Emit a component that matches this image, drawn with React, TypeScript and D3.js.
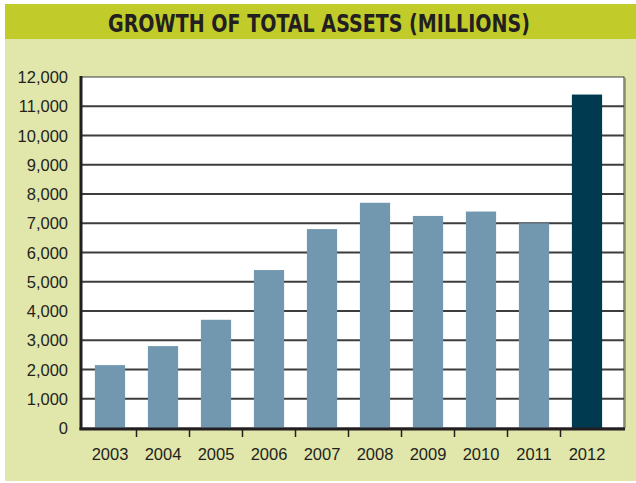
import * as d3 from "d3";
import React, { useRef, useEffect } from "react";

const years = ["2003", "2004", "2005", "2006", "2007", "2008", "2009", "2010", "2011", "2012"];
const assets = [2150, 2800, 3700, 5400, 6800, 7700, 7250, 7400, 7000, 11400];
const yTicks = [0, 1000, 2000, 3000, 4000, 5000, 6000, 7000, 8000, 9000, 10000, 11000, 12000];
const title = "GROWTH OF TOTAL ASSETS (MILLIONS)";

const App = () => {
  const svgRef = useRef(null);

  useEffect(() => {
    const svg = d3.select(svgRef.current);
    svg.selectAll("*").remove();

    const width = 636;
    const plotLeft = 81;
    const plotRight = 624;
    const plotTop = 77;
    const plotBottom = 428;

    // backgrounds
    svg.append("rect").attr("x", 5).attr("y", 39).attr("width", width - 5).attr("height", 442).attr("fill", "#e1e6ab");
    svg.append("rect").attr("x", 5).attr("y", 4).attr("width", width - 5).attr("height", 35).attr("fill", "#c1cc2b");
    svg
      .append("text")
      .attr("x", 319)
      .attr("y", 32)
      .attr("text-anchor", "middle")
      .attr("textLength", 422)
      .attr("lengthAdjust", "spacingAndGlyphs")
      .style("font-family", "'DejaVu Sans Condensed', 'Liberation Sans Narrow', sans-serif")
      .style("font-weight", "bold")
      .style("font-size", "25px")
      .style("fill", "#231f20")
      .text(title);

    const x = d3.scaleBand().domain(years).range([83.5, 613.5]).paddingInner(0.43).paddingOuter(0.215);
    const y = d3.scaleLinear().domain([0, 12000]).range([plotBottom, plotTop]);

    // plot area
    svg
      .append("rect")
      .attr("x", plotLeft)
      .attr("y", plotTop)
      .attr("width", plotRight - plotLeft)
      .attr("height", plotBottom - plotTop)
      .attr("fill", "#ffffff")
      .attr("stroke", "#3a3a3a")
      .attr("stroke-width", 1);
    svg
      .append("line")
      .attr("x1", plotRight + 1)
      .attr("x2", plotRight + 1)
      .attr("y1", plotTop + 1)
      .attr("y2", plotBottom)
      .attr("stroke", "#8a8a70")
      .attr("stroke-width", 1.5);

    // gridlines
    svg
      .append("g")
      .selectAll("line")
      .data(yTicks.filter((d) => d > 0 && d < 12000))
      .join("line")
      .attr("x1", plotLeft)
      .attr("x2", plotRight)
      .attr("y1", (d) => y(d))
      .attr("y2", (d) => y(d))
      .attr("stroke", "#3d3d3d")
      .attr("stroke-width", 2);

    // bars
    svg
      .append("g")
      .selectAll("rect")
      .data(years)
      .join("rect")
      .attr("x", (d) => x(d) as number)
      .attr("width", x.bandwidth())
      .attr("y", (d, i) => y(assets[i]))
      .attr("height", (d, i) => plotBottom - y(assets[i]))
      .attr("fill", (d, i) => (i === years.length - 1 ? "#003a51" : "#7298b0"));

    // axes
    svg.append("line").attr("x1", plotLeft).attr("x2", plotLeft).attr("y1", plotTop - 1).attr("y2", plotBottom + 2).attr("stroke", "#231f20").attr("stroke-width", 3);
    svg.append("line").attr("x1", plotLeft - 1.5).attr("x2", plotRight + 1).attr("y1", plotBottom + 1).attr("y2", plotBottom + 1).attr("stroke", "#231f20").attr("stroke-width", 3);

    // x ticks between bands
    const step = x.step();
    svg
      .append("g")
      .selectAll("line")
      .data(years.slice(1))
      .join("line")
      .attr("x1", (d) => (x(d) as number) - (step - x.bandwidth()) / 2)
      .attr("x2", (d) => (x(d) as number) - (step - x.bandwidth()) / 2)
      .attr("y1", plotBottom + 2)
      .attr("y2", plotBottom + 9)
      .attr("stroke", "#231f20")
      .attr("stroke-width", 1.5);

    const labelFont = "'Liberation Sans', Arial, sans-serif";

    svg
      .append("g")
      .selectAll("text")
      .data(yTicks)
      .join("text")
      .attr("x", 68)
      .attr("y", (d) => y(d) + 6)
      .attr("text-anchor", "end")
      .style("font-family", labelFont)
      .style("font-size", "16.5px")
      .style("fill", "#231f20")
      .text((d) => d3.format(",")(d));

    svg
      .append("g")
      .selectAll("text")
      .data(years)
      .join("text")
      .attr("x", (d) => (x(d) as number) + x.bandwidth() / 2)
      .attr("y", 460)
      .attr("text-anchor", "middle")
      .style("font-family", labelFont)
      .style("font-size", "16.5px")
      .style("fill", "#231f20")
      .text((d) => d);
  }, []);

  return (
    <svg
      ref={svgRef}
      width={636}
      height={483}
      style={{ position: "absolute", left: 0, top: 0, background: "#ffffff" }}
    ></svg>
  );
};

export default App;
